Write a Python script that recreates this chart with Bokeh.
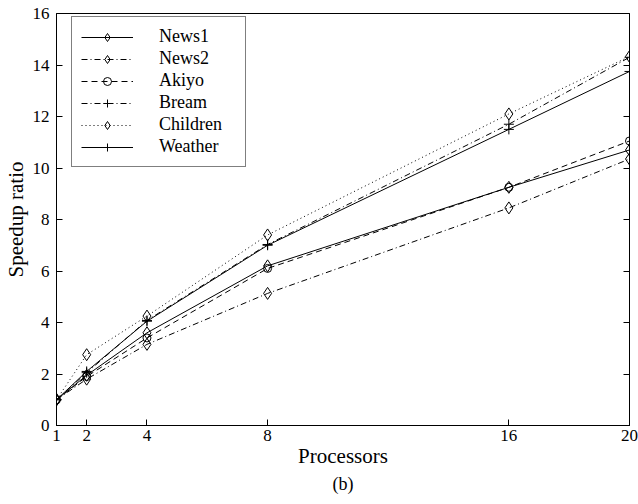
from bokeh.plotting import figure
from bokeh.models import LinearAxis, FixedTicker, Legend, LegendItem, Title, Range1d
from bokeh.embed import file_html
from bokeh.resources import INLINE

processors = [1, 2, 4, 8, 16, 20]
news1 = [1.0, 1.95, 3.6, 6.2, 9.25, 10.7]
news2 = [1.0, 1.8, 3.15, 5.13, 8.45, 10.35]
akiyo = [1.0, 1.9, 3.4, 6.1, 9.25, 11.05]
bream = [1.0, 2.05, 4.08, 7.03, 11.7, 14.3]
children = [1.0, 2.75, 4.25, 7.4, 12.1, 14.33]
weather = [1.0, 2.1, 4.05, 7.0, 11.5, 13.75]
x_ticks = [1, 2, 4, 8, 16, 20]
y_ticks = [0, 2, 4, 6, 8, 10, 12, 14, 16]

FONT = "Liberation Serif"

p = figure(width=638, height=504, output_backend="svg", toolbar_location=None,
           x_range=Range1d(1, 20), y_range=Range1d(0, 16),
           min_border_left=55, min_border_right=9, min_border_top=13, min_border_bottom=79)
p.background_fill_color = "white"
p.border_fill_color = "white"
p.outline_line_color = "black"
p.outline_line_width = 1
p.xgrid.visible = False
p.ygrid.visible = False

for ax in (p.xaxis[0], p.yaxis[0]):
    ax.major_tick_in = 6
    ax.major_tick_out = 0
    ax.minor_tick_line_color = None
    ax.axis_line_color = "black"
    ax.major_label_text_font = FONT
    ax.major_label_text_font_size = "17px"
    ax.major_label_text_color = "black"
    ax.axis_label_text_font = FONT
    ax.axis_label_text_font_size = "21px"
    ax.axis_label_text_font_style = "normal"
    ax.axis_label_text_color = "black"

p.xaxis[0].ticker = FixedTicker(ticks=x_ticks)
p.yaxis[0].ticker = FixedTicker(ticks=y_ticks)
p.xaxis[0].axis_label = "Processors"
p.yaxis[0].axis_label = "Speedup ratio"
p.xaxis[0].major_label_standoff = 4
p.yaxis[0].major_label_standoff = 7
p.xaxis[0].axis_label_standoff = 0
p.yaxis[0].axis_label_standoff = 2

right = LinearAxis(ticker=FixedTicker(ticks=y_ticks), major_label_text_font_size="0px",
                   major_label_standoff=0, major_tick_in=6, major_tick_out=0,
                   minor_tick_line_color=None)
p.add_layout(right, "right")

series = [
    ("News1", news1, "solid", "diamond", 12),
    ("News2", news2, "6 3 1 3", "diamond", 12),
    ("Akiyo", akiyo, "6 4", "circle", 8),
    ("Bream", bream, "6 3 1 3", "cross", 10),
    ("Children", children, "1 3", "diamond", 12),
    ("Weather", weather, "solid", "cross", 10),
]

items = []
for name, ys, dash, marker, size in series:
    l = p.line(processors, ys, line_color="black", line_width=1, line_dash=dash)
    s = p.scatter(processors, ys, marker=marker, size=size, fill_color=None,
                  line_color="black", line_width=1)
    items.append(LegendItem(label=name, renderers=[l, s]))

legend = Legend(items=items, location=(15, 258))
legend.label_text_font = FONT
legend.label_text_font_size = "18px"
legend.label_text_color = "black"
legend.glyph_width = 52
legend.glyph_height = 20
legend.label_height = 20
legend.label_width = 77
legend.spacing = 1
legend.label_standoff = 26
legend.padding = 9
legend.margin = 0
legend.border_line_color = "black"
legend.border_line_width = 1
legend.background_fill_alpha = 1
p.add_layout(legend)

cap = Title(text="(b)", align="center", text_font=FONT, text_font_size="18px",
            text_font_style="normal", text_color="black", standoff=2)
p.add_layout(cap, "below")

open("out.html", "w").write(file_html(p, INLINE))
